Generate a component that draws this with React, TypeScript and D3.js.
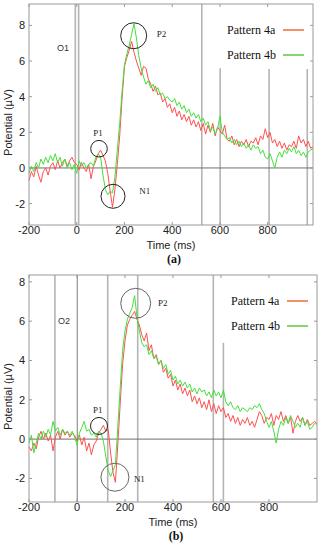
import React from 'react';
import * as d3 from 'd3';

// time grid, 10 ms steps
const timesA = d3.range(-200, 1000, 10);
const timesB = d3.range(-200, 1010, 10);

// panel (a)
const red4a_A = [
  -0.7, -0.2, -0.5, 0.1, -0.4, -0.8, -0.2, 0.0, -0.4, 0.1,
  0.3, -0.1, 0.4, 0.0, 0.3, 0.5, 0.1, 0.4, 0.6, 0.3,
  0.2, -0.1, 0.3, 0.0, -0.2, 0.2, -0.6, 0.1, 0.4, 0.8,
  1.0, 0.7, 0.4, -0.3, -1.3, -2.2, -1.2, 0.2, 1.8, 3.9,
  5.7, 6.2, 6.6, 7.1, 6.5, 6.0, 5.6, 5.2, 5.7, 5.6,
  5.0, 4.7, 4.3, 4.6, 4.1, 4.2, 3.7, 3.9, 3.4, 3.6,
  3.1, 3.4, 2.9, 3.2, 2.7, 3.0, 2.6, 2.9, 2.4, 2.7,
  2.3, 2.6, 2.1, 2.5, 1.9, 2.4, 2.0, 2.5, 1.8, 2.3,
  2.1, 1.9, 2.4, 1.6, 1.5, 1.8, 1.3, 1.6, 1.2, 1.5,
  1.3, 1.6, 1.2, 1.5, 1.4, 1.7, 1.3, 1.8, 1.6, 2.2,
  1.7, 2.0, 1.4, 1.6, 1.2, 1.5, 1.1, 1.4, 1.0, 1.3,
  1.2, 1.5, 1.1, 1.8, 1.4, 1.6, 1.2, 1.5, 1.1, 1.2,
];
const green4b_A = [
  -0.3, 0.1, -0.2, 0.3, 0.0, 0.5, 0.2, 0.6, 0.3, 0.7,
  0.4, 0.8, 0.3, 0.6, 0.1, 0.5, 0.0, 0.3, -0.1, 0.2,
  -0.3, 0.4, 0.1, 0.3, 0.0, 0.2, 0.3, 0.1, 0.6, 0.8,
  0.6, -0.4, -1.2, -1.5, -1.3, -1.4, -0.5, 1.0, 2.5, 4.3,
  5.8, 6.4, 6.9, 7.5, 8.1, 7.3, 6.3, 5.6, 5.1, 4.7,
  4.9, 4.5, 4.7, 4.3, 4.5, 4.1, 4.2, 3.9, 4.0, 3.8,
  3.7, 3.9, 3.5, 3.7, 3.3, 3.5, 3.1, 3.3, 2.9, 3.1,
  2.8, 3.0, 2.6, 2.8, 2.4, 2.6, 2.1, 2.3, 1.9, 2.2,
  2.9, 2.0, 1.8, 1.6, 1.7, 1.4, 1.6, 1.3, 1.5, 1.2,
  1.4, 1.1, 1.3, 1.0, 1.3, 1.1, 1.2, 0.8, 1.0, 0.6,
  0.5, 0.8, 0.4, 0.0, 0.6, 0.9, 0.6, 1.0, 0.8, 1.1,
  0.9, 1.2, 0.8, 1.0, 0.7, 0.9, 0.6, 0.9, 1.0, 1.1,
];

// panel (b)
const red4a_B = [
  -0.4, -0.6, -0.2, -0.5, 0.1, 0.4, 0.0, 0.3, -0.1, 0.2,
  -0.6, 0.1, 0.4, 0.0, 0.5, 0.2, 0.4, 0.1, 0.3, 0.2,
  -0.1, 0.2, -0.3, 0.1, -0.6, -0.2, -0.8, -0.3, -0.1, 0.3,
  0.5, 0.7, 0.4, 0.5, -0.7, -1.7, -2.2, -0.3, 1.8, 3.8,
  5.0, 5.8, 6.1, 6.3, 6.5, 6.1, 5.8, 5.3, 5.0, 5.4,
  4.5, 4.8, 4.1, 4.3, 3.8, 4.0, 3.4, 3.6, 3.1, 3.3,
  2.7, 3.0, 2.5, 2.8, 2.3, 2.6, 2.2, 2.5, 1.9, 2.2,
  1.8, 2.1, 1.6, 1.9, 1.5, 2.0, 1.4, 1.8, 1.3, 1.7,
  1.4, 1.6, 1.1, 1.3, 0.9, 1.2, 0.8, 1.1, 0.7, 1.0,
  0.8, 1.1, 0.7, 0.9, 0.6, 1.0, 1.4, 1.2, 0.8, 1.1,
  1.0, 1.3, 0.7, 1.2, 1.0, 1.4, 0.9, 1.2, 0.8, 1.1,
  0.3, 0.9, 1.2, 0.9, 1.1, 0.7, 1.0, 0.7, 0.8, 0.9,
  0.8,
];
const green4b_B = [
  -0.2, 0.2, -0.7, -0.2, 0.3, 0.0, 0.4, 0.1, 0.5, 0.2,
  0.9, 0.4, 0.6, 0.2, 0.5, 0.3, 0.4, 0.2, 0.4, 0.1,
  -0.3, 0.3, 0.6, 0.9, 0.4, 0.5, 0.2, 0.3, 0.1, 0.4,
  0.3, -0.1, -0.9, -1.6, -1.9, -1.6, -1.3, 0.6, 2.6, 4.5,
  5.5, 6.1, 6.4, 6.7, 7.3, 6.2, 5.5, 4.9, 4.7, 4.8,
  4.3, 4.5, 4.1, 4.2, 3.8, 4.0, 3.6, 3.8, 3.3, 3.5,
  3.0, 3.2, 2.8, 3.0, 2.7, 2.9, 2.6, 2.8, 2.4, 2.6,
  2.3, 2.6, 2.4, 2.5, 2.2, 2.4, 2.1, 2.5, 2.2, 2.4,
  2.1, 2.5, 1.9, 1.7, 1.9, 1.6, 1.5, 1.7, 1.4, 1.6,
  1.5, 1.4, 1.6, 1.5, 1.7, 1.6, 1.8, 1.5, 1.3, 0.9,
  0.6, 0.9, 0.4, -0.2, 0.5, 0.9, 0.7, 1.1, 0.8, 1.2,
  0.9, 0.6, 0.8, 0.6, 1.1, 0.7, 0.9, 0.5, 0.6, 0.8,
  0.75,
];

const xTicks = [-200, 0, 200, 400, 600, 800];
const yTicks = [-2, 0, 2, 4, 6, 8];

// vertical marker lines: time, top value (null = full height), dark
const markersA = [
  { t: -6, top: null, dark: false },
  { t: 8, top: null, dark: false },
  { t: 524, top: null, dark: false },
  { t: 601, top: 5.6, dark: false },
  { t: 806, top: 5.55, dark: false },
  { t: 966, top: 5.55, dark: false },
];
const markersB = [
  { t: -92, top: null, dark: false },
  { t: 1, top: null, dark: true },
  { t: 128, top: null, dark: false },
  { t: 253, top: null, dark: false },
  { t: 568, top: null, dark: false },
  { t: 610, top: 4.9, dark: false },
];

// component annotations
const circlesA = [
  { t: 238.6, v: 7.42, r: 13, color: '#222' },
  { t: 93.3, v: 1.08, r: 8.3, color: '#222' },
  { t: 152, v: -1.59, r: 12, color: '#222' },
];
const circlesB = [
  { t: 244.6, v: 6.91, r: 15, color: '#666' },
  { t: 91.7, v: 0.67, r: 8.5, color: '#222' },
  { t: 158, v: -1.94, r: 14, color: '#666' },
];
const labelsA = [
  { t: 335, v: 7.33, text: 'P2', anchor: 'start' },
  { t: 89, v: 1.81, text: 'P1', anchor: 'middle' },
  { t: 262, v: -1.46, text: 'N1', anchor: 'start' },
];
const labelsB = [
  { t: 337, v: 6.77, text: 'P2', anchor: 'start' },
  { t: 87, v: 1.33, text: 'P1', anchor: 'middle' },
  { t: 237, v: -2.18, text: 'N1', anchor: 'start' },
];
const seriesNames = ['Pattern 4a', 'Pattern 4b'];

const RED = '#ff5050';
const GREEN = '#44e03c';
const SANS = 'Liberation Sans, Arial, sans-serif';
const SERIF = 'Liberation Serif, Times New Roman, serif';

type Props = {
  times: number[];
  red: number[];
  green: number[];
  xDomain: [number, number];
  yDomain: [number, number];
  top: number;
  bottom: number;
  right: number;
  markers: { t: number; top: number | null; dark: boolean }[];
  circles: { t: number; v: number; r: number; color: string }[];
  labels: { t: number; v: number; text: string; anchor: string }[];
  oLabel: { t: number; v: number; text: string };
  legendY: number;
  legendX: number;
  caption: string;
};

const Panel = (p: Props) => {
  const left = 29;
  const x = d3.scaleLinear().domain(p.xDomain).range([left, p.right]);
  const y = d3.scaleLinear().domain(p.yDomain).range([p.bottom, p.top]);
  const line = d3.line<number>()
    .x((_, i) => x(p.times[i]))
    .y(d => y(d));
  const frame = '#9a9a9a';
  const midY = (p.top + p.bottom) / 2 + 8;

  return (
    <g>
      {/* marker lines */}
      {p.markers.map((m, i) => (
        <line key={'m' + i} x1={x(m.t)} x2={x(m.t)}
          y1={m.top == null ? p.top : y(m.top)} y2={p.bottom}
          stroke={m.dark ? '#7a7a7a' : '#b4b4b4'} strokeWidth={m.dark ? 1 : 1.6} />
      ))}
      {/* zero line */}
      <line x1={left} x2={p.right} y1={y(0)} y2={y(0)} stroke="#6e6e6e" strokeWidth={1} />

      {/* traces */}
      <path d={line(p.red) || ''} fill="none" stroke={RED} strokeWidth={1} strokeLinejoin="round" />
      <path d={line(p.green) || ''} fill="none" stroke={GREEN} strokeWidth={1} strokeLinejoin="round" />

      {/* frame + ticks */}
      <rect x={left} y={p.top} width={p.right - left} height={p.bottom - p.top}
        fill="none" stroke={frame} strokeWidth={1} />
      {xTicks.map(t => (
        <g key={'xt' + t}>
          <line x1={x(t)} x2={x(t)} y1={p.bottom} y2={p.bottom - 3} stroke={frame} />
          <line x1={x(t)} x2={x(t)} y1={p.top} y2={p.top + 3} stroke={frame} />
          <text x={x(t)} y={p.bottom + 9} textAnchor="middle" fontFamily={SANS}
            fontSize={11} fill="#222">{t}</text>
        </g>
      ))}
      {yTicks.map(v => (
        <g key={'yt' + v}>
          <line x1={left} x2={left + 3} y1={y(v)} y2={y(v)} stroke={frame} />
          <line x1={p.right} x2={p.right - 3} y1={y(v)} y2={y(v)} stroke={frame} />
          <text x={left - 4} y={y(v) + 4} textAnchor="end" fontFamily={SANS}
            fontSize={11} fill="#222">{v}</text>
        </g>
      ))}
      <text x={(left + p.right) / 2} y={p.bottom + 24} textAnchor="middle"
        fontFamily={SANS} fontSize={11} fill="#222">Time (ms)</text>
      <text transform={`translate(12, ${midY}) rotate(-90)`} textAnchor="middle"
        fontFamily={SANS} fontSize={11} fill="#222">Potential (µV)</text>
      <text x={(left + p.right) / 2 + 3} y={p.bottom + 38} textAnchor="middle"
        fontFamily={SERIF} fontSize={12} fontWeight="bold" fill="#111">{p.caption}</text>

      {/* annotations */}
      {p.circles.map((c, i) => (
        <circle key={'c' + i} cx={x(c.t)} cy={y(c.v)} r={c.r} fill="none"
          stroke={c.color} strokeWidth={1} />
      ))}
      {p.labels.map((l, i) => (
        <text key={'l' + i} x={x(l.t)} y={y(l.v)} textAnchor={l.anchor as any}
          fontFamily={SERIF} fontSize={9} fill="#222">{l.text}</text>
      ))}
      <text x={x(p.oLabel.t)} y={y(p.oLabel.v)} fontFamily={SANS} fontSize={9}
        fill="#333">{p.oLabel.text}</text>

      {/* legend */}
      {seriesNames.map((name, i) => (
        <g key={name}>
          <text x={p.legendX} y={p.legendY + i * 25} fontFamily={SERIF} fontSize={12}
            fill="#111">{name}</text>
          <line x1={p.legendX + 56} x2={p.legendX + 77}
            y1={p.legendY - 4 + i * 25} y2={p.legendY - 4 + i * 25}
            stroke={i === 0 ? '#f06a3a' : '#5cc83a'} strokeWidth={1.5} />
        </g>
      ))}
    </g>
  );
};

export default function App() {
  return (
    <svg width={328} height={550} style={{ position: 'absolute', left: 0, top: 0, background: '#fff' }}>
      <Panel times={timesA} red={red4a_A} green={green4b_A}
        xDomain={[-200, 990]} yDomain={[-3.2, 9.2]} top={4} bottom={225} right={313}
        markers={markersA} circles={circlesA} labels={labelsA}
        oLabel={{ t: -83, v: 6.57, text: 'O1' }}
        legendX={227} legendY={34} caption="(a)" />
      <Panel times={timesB} red={red4a_B} green={green4b_B}
        xDomain={[-200, 1000]} yDomain={[-3.2, 8.35]} top={275} bottom={502} right={317}
        markers={markersB} circles={circlesB} labels={labelsB}
        oLabel={{ t: -79, v: 5.86, text: 'O2' }}
        legendX={231} legendY={305} caption="(b)" />
    </svg>
  );
}
